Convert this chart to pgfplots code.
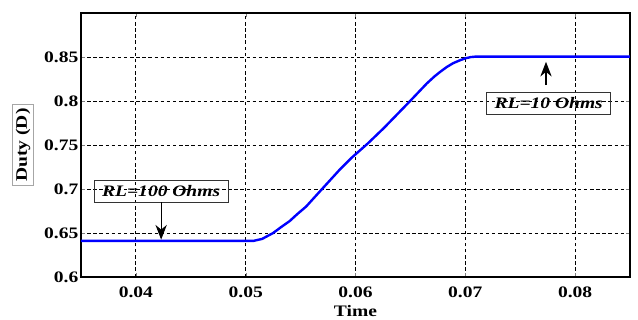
\documentclass[border=0pt]{standalone}
\usepackage{fontspec}
\setmainfont[FakeStretch=1.22]{Liberation Serif}
\usepackage{pgfplots}
\pgfplotsset{compat=1.18}
\usetikzlibrary{calc,arrows.meta}

\begin{document}
\begin{tikzpicture}
\begin{axis}[
  width=411.75pt, height=198pt,
  scale only axis,
  xmin=0.035, xmax=0.085,
  ymin=0.6, ymax=0.9,
  xtick={0.04,0.05,0.06,0.07,0.08},
  ytick={0.6,0.65,0.7,0.75,0.8,0.85},
  scaled ticks=false,
  /pgf/number format/assume math mode=true,
  /pgf/number format/fixed,
  /pgf/number format/precision=2,
  tick label style={font=\fontsize{12}{14}\selectfont\bfseries},
  xticklabel style={yshift=-3.5pt},
  yticklabel style={xshift=1.5pt},
  tick align=inside,
  major tick length=3pt,
  axis line style={black, line width=0.9pt},
  grid=major,
  major grid style={black, line width=0.6pt, dash pattern=on 2.6pt off 2pt},
  xlabel={Time},
  xlabel style={font=\fontsize{12}{14}\selectfont\bfseries,
    at={(axis description cs:0.5,-0.128)}, anchor=center},
  ylabel={Duty (D)},
  ylabel style={font=\fontsize{12}{14}\selectfont\bfseries, draw=gray!70, line width=0.7pt,
    inner xsep=3pt, inner ysep=2.5pt, at={(axis description cs:-0.1056,0.5)}, anchor=center},
  clip=false,
]
\addplot[blue, line width=1.8pt, line join=round] coordinates {
  (0.035,0.641) (0.0507,0.641) (0.0515,0.6433) (0.0525,0.6500) (0.0532,0.6565)
  (0.054,0.6635) (0.0547,0.6715) (0.0555,0.680) (0.0567,0.6965) (0.0586,0.7225)
  (0.0596,0.735) (0.0611,0.7515) (0.0626,0.7695) (0.0649,0.799) (0.0665,0.820)
  (0.0672,0.8280) (0.0677,0.8330) (0.0683,0.8385) (0.0689,0.8430) (0.0695,0.8462)
  (0.0700,0.8485) (0.0705,0.8499) (0.0710,0.8505) (0.085,0.8505)
};
% load annotations
\node[draw=black!80, line width=0.7pt, inner xsep=6pt, inner ysep=4pt,
      font=\fontsize{12}{14}\selectfont\bfseries\itshape]
  (a1) at (axis cs:0.0423,0.6977) {RL=100 Ohms};
\draw[line width=0.8pt, -{Stealth[length=11pt,width=8.5pt,inset=3.5pt]}]
  (a1.south -| {axis cs:0.0423,0}) -- (axis cs:0.0423,0.6425);
\node[draw=black!80, line width=0.7pt, inner xsep=6pt, inner ysep=4pt,
      font=\fontsize{12}{14}\selectfont\bfseries\itshape]
  (a2) at (axis cs:0.0776,0.7975) {RL=10 Ohms};
\draw[line width=0.8pt, -{Stealth[length=11pt,width=8.5pt,inset=3.5pt]}]
  (axis cs:0.07735,0.818) -- (axis cs:0.07735,0.8445);
\coordinate (sw) at (rel axis cs:0,0);
\coordinate (ne) at (rel axis cs:1,1);
\end{axis}
\pgfresetboundingbox
\path ($(sw)+(-60.75pt,-32.25pt)$) rectangle ($(ne)+(6pt,9.75pt)$);
\end{tikzpicture}
\end{document}
